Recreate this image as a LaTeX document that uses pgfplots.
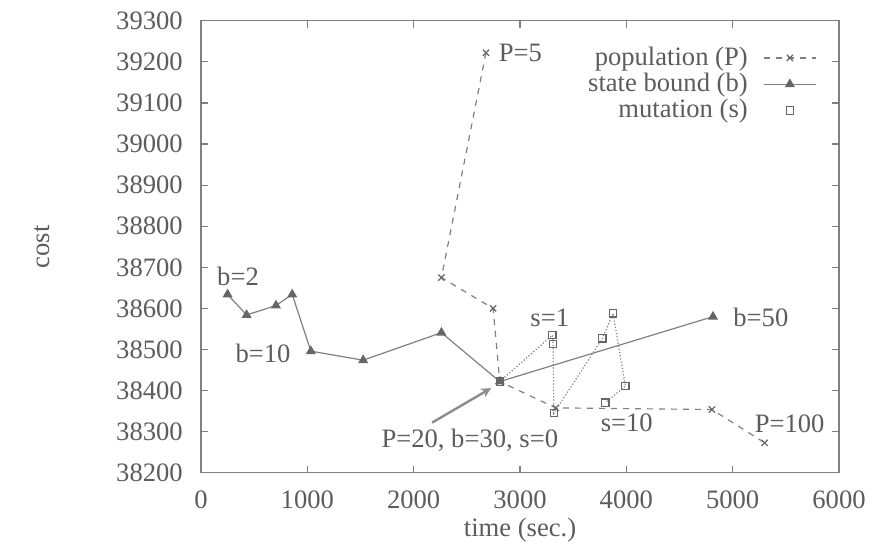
\documentclass[border=0pt]{standalone}
\usepackage{fontspec}
\setmainfont{Liberation Serif}
\usepackage{pgfplots}
\pgfplotsset{compat=1.18}
\definecolor{txt}{gray}{0.36}
\definecolor{ln}{gray}{0.5}
\definecolor{mk}{gray}{0.4}
\begin{document}
\fontsize{13.3}{15}\selectfont
\begin{tikzpicture}
\path[use as bounding box] (-100.5pt,-35.1pt) rectangle (342.5pt,236.4pt);
\begin{axis}[
  at={(0,0)}, anchor=south west, scale only axis,
  width=319pt, height=226.05pt,
  xmin=0, xmax=6000, ymin=38200, ymax=39300,
  xtick={0,1000,...,6000}, ytick={38200,38300,...,39300},
  scaled ticks=false,
  /pgf/number format/assume math mode=true,
  /pgf/number format/set thousands separator={},
  tick align=inside, major tick length=3.5pt,
  axis line style={ln, line width=0.6pt}, tick style={ln, line width=0.6pt},
  every tick label/.append style={text=txt, font=\fontsize{13.3}{15}\selectfont},
  xticklabel style={yshift=-4.5pt},
  yticklabel style={xshift=-4.5pt},
  xlabel={time (sec.)}, ylabel={cost},
  label style={text=txt, font=\fontsize{13.3}{15}\selectfont},
  xlabel style={at={(axis description cs:0.5,-0.127)}, anchor=center},
  ylabel style={at={(axis description cs:-0.2492,0.5)}, anchor=center},
  legend style={draw=none, fill=none, at={(axis description cs:0.975,0.961)}, anchor=north east,
    font=\fontsize{13.3}{15}\selectfont, text=txt, row sep=-2.1pt},
  legend cell align=right, legend plot pos=right,
  legend image code/.code={\path (0cm,0cm); \draw[mark repeat=2,mark phase=2,#1] plot coordinates {(0.2cm,0cm) (0.66cm,0cm) (1.12cm,0cm)};},
]
\addplot[ln, line width=0.6pt, dashed, mark=x, mark size=2.2pt, mark options={solid, draw=mk}]
  coordinates {(2680,39222) (2261,38675) (2747,38600) (2810,38422) (3336,38358) (4805,38354) (5301,38273)};
\addlegendentry{population (P)}
\addplot[ln, line width=0.6pt, solid, mark=triangle*, mark size=2.3pt, mark options={solid, fill=mk, draw=mk}]
  coordinates {(250,38634) (429,38584) (705,38607) (858,38634) (1033,38496) (1525,38474) (2261,38541) (2810,38422) (4815,38580)};
\addlegendentry{state bound (b)}
\addplot[ln, line width=0.6pt, densely dotted, mark=square, mark size=1.8pt, mark options={solid, draw=mk}, forget plot]
  coordinates {(2810,38422) (3305,38535) (3311,38513) (3318,38345) (3775,38527) (3875,38588) (3991,38411) (3804,38371)};
\addlegendimage{only marks, mark=square, mark size=1.8pt, mark options={draw=mk}}
\addlegendentry{mutation (s)}
\node[text=txt] at (axis cs:3003,39222) {P=5};
\node[text=txt] at (axis cs:348,38677) {b=2};
\node[text=txt] at (axis cs:583,38491) {b=10};
\node[text=txt] at (axis cs:2528,38280) {P=20, b=30, s=0};
\node[text=txt] at (axis cs:3280,38577) {s=1};
\node[text=txt] at (axis cs:4004,38321) {s=10};
\node[text=txt] at (axis cs:5265,38577) {b=50};
\node[text=txt] at (axis cs:5536,38319) {P=100};
\draw[->, >=stealth, color=black!45, line width=1.2pt] (axis cs:2173,38322) -- (axis cs:2728,38406);
\end{axis}
\end{tikzpicture}
\end{document}
